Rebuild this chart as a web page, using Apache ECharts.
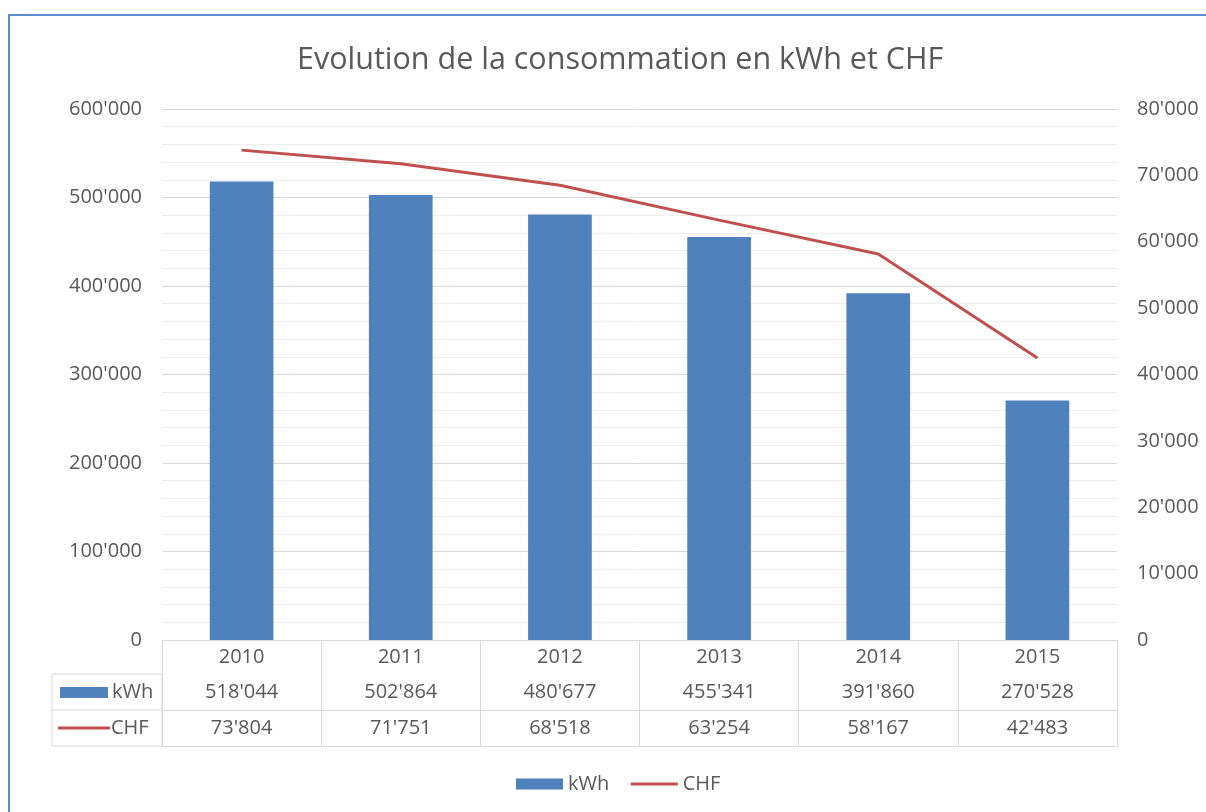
<!DOCTYPE html>
<html>
<head>
<meta charset="utf-8">
<title>Evolution de la consommation</title>
<script src="https://cdn.jsdelivr.net/npm/echarts@6/dist/echarts.min.js"></script>
<style>
	html, body { margin: 0; padding: 0; background: #fff; }
	#chart { width: 1206px; height: 812px; }
</style>
</head>
<body>
<div id="chart"></div>
<script>
	// values
	var years = [ "2010", "2011", "2012", "2013", "2014", "2015" ];
	var kwhValues = [ 518044, 502864, 480677, 455341, 391860, 270528 ];
	var chfValues = [ 73804, 71751, 68518, 63254, 58167, 42483 ];

	var textColor = "#595959";
	var tableLine = "#d9d9d9";
	var fontFamily = "'Open Sans', 'Noto Sans', sans-serif";
	var labelSize = 20;

	// plot box
	var gridLeft = 162, gridRight = 1117, gridTop = 109, gridBottom = 640;
	var rowKwh = 674, rowChf = 710, rowEnd = 746, tableLeft = 52;

	function swissFormat(n) {
		return String(n).replace(/\B(?=(\d{3})+(?!\d))/g, "'");
	}

	function tableAxis(offset, values, margin) {
		return {
			type : "category",
			data : years,
			position : "bottom",
			offset : offset,
			axisLine : {
				show : true,
				lineStyle : { color : tableLine, width : 1 }
			},
			axisTick : { show : false },
			axisLabel : {
				margin : margin,
				color : textColor,
				fontSize : labelSize,
				fontFamily : fontFamily,
				formatter : function(v, i) {
					return values ? swissFormat(values[i]) : "";
				}
			},
			splitLine : { show : false }
		};
	}

	var chart = echarts.init(document.getElementById("chart"));

	var option = {
		animation : false,
		backgroundColor : "#fff",
		textStyle : { fontFamily : fontFamily },
		title : {
			text : "Evolution de la consommation en kWh et CHF",
			left : 292,
			top : 40,
			textStyle : {
				color : textColor,
				fontSize : 30.5,
				fontWeight : "normal",
				fontFamily : fontFamily
			}
		},
		legend : {
			top : 769,
			left : 511,
			itemGap : 20,
			itemWidth : 47,
			itemHeight : 11,
			textStyle : { color : textColor, fontSize : labelSize, fontFamily : fontFamily },
			data : [ {
				name : "kWh",
				icon : "rect"
			}, {
				name : "CHF",
				itemStyle : { opacity : 0 },
				lineStyle : { width : 3 }
			} ]
		},
		grid : {
			left : gridLeft,
			right : 1206 - gridRight,
			top : gridTop,
			bottom : 812 - gridBottom
		},
		xAxis : [ {
			type : "category",
			data : years,
			position : "bottom",
			axisLine : { show : true, lineStyle : { color : tableLine } },
			axisTick : {
				show : true,
				length : rowEnd - gridBottom,
				lineStyle : { color : tableLine }
			},
			axisLabel : {
				margin : 7,
				color : textColor,
				fontSize : labelSize,
				fontFamily : fontFamily
			}
		}, tableAxis(rowKwh - gridBottom, kwhValues, 8), tableAxis(rowChf - gridBottom, chfValues, 8),
				tableAxis(rowEnd - gridBottom, null, 8) ],
		yAxis : [ {
			type : "value",
			min : 0,
			max : 600000,
			interval : 100000,
			axisLine : { show : false },
			axisTick : { show : false },
			axisLabel : {
				margin : 20,
				color : textColor,
				fontSize : labelSize,
				fontFamily : fontFamily,
				formatter : swissFormat
			},
			splitLine : { show : true, lineStyle : { color : "#d9d9d9", width : 1 } },
			minorTick : { show : false, splitNumber : 5 },
			minorSplitLine : { show : true, lineStyle : { color : "#eeeeee", width : 1 } }
		}, {
			type : "value",
			min : 0,
			max : 80000,
			interval : 10000,
			position : "right",
			axisLine : { show : false },
			axisTick : { show : false },
			axisLabel : {
				margin : 20,
				color : textColor,
				fontSize : labelSize,
				fontFamily : fontFamily,
				formatter : swissFormat
			},
			splitLine : { show : false }
		} ],
		series : [ {
			name : "kWh",
			type : "bar",
			data : kwhValues,
			barWidth : "40%",
			itemStyle : { color : "#4f81bd" }
		}, {
			name : "CHF",
			type : "line",
			yAxisIndex : 1,
			data : chfValues,
			symbol : "none",
			lineStyle : { color : "#c0504d", width : 3 },
			itemStyle : { color : "#c0504d" }
		} ],
		graphic : [
		// outer frame
		{
			type : "rect",
			shape : { x : 9, y : 15, width : 1400, height : 1000 },
			style : { fill : null, stroke : "#5b8bd0", lineWidth : 2 },
			silent : true
		},
		// left column of the data table
		{
			type : "polyline",
			shape : { points : [ [ gridLeft, rowKwh ], [ tableLeft, rowKwh ], [ tableLeft, rowEnd ], [ gridLeft, rowEnd ] ] },
			style : { fill : null, stroke : tableLine, lineWidth : 1 },
			silent : true
		}, {
			type : "line",
			shape : { x1 : tableLeft, y1 : rowChf, x2 : gridLeft, y2 : rowChf },
			style : { stroke : tableLine, lineWidth : 1 },
			silent : true
		}, {
			type : "line",
			shape : { x1 : gridLeft, y1 : rowKwh, x2 : gridLeft, y2 : rowEnd },
			style : { stroke : tableLine, lineWidth : 1 },
			silent : true
		}, {
			type : "rect",
			shape : { x : 60, y : (rowKwh + rowChf) / 2 - 5, width : 48, height : 11 },
			style : { fill : "#4f81bd" },
			silent : true
		}, {
			type : "text",
			x : 112,
			y : (rowKwh + rowChf) / 2,
			style : {
				text : "kWh",
				fill : textColor,
				fontSize : labelSize,
				fontFamily : fontFamily,
				verticalAlign : "middle"
			},
			silent : true
		}, {
			type : "line",
			shape : { x1 : 58, y1 : (rowChf + rowEnd) / 2, x2 : 110, y2 : (rowChf + rowEnd) / 2 },
			style : { stroke : "#c0504d", lineWidth : 3 },
			silent : true
		}, {
			type : "text",
			x : 111,
			y : (rowChf + rowEnd) / 2,
			style : {
				text : "CHF",
				fill : textColor,
				fontSize : labelSize,
				fontFamily : fontFamily,
				verticalAlign : "middle"
			},
			silent : true
		} ]
	};

	chart.setOption(option);
</script>
</body>
</html>
